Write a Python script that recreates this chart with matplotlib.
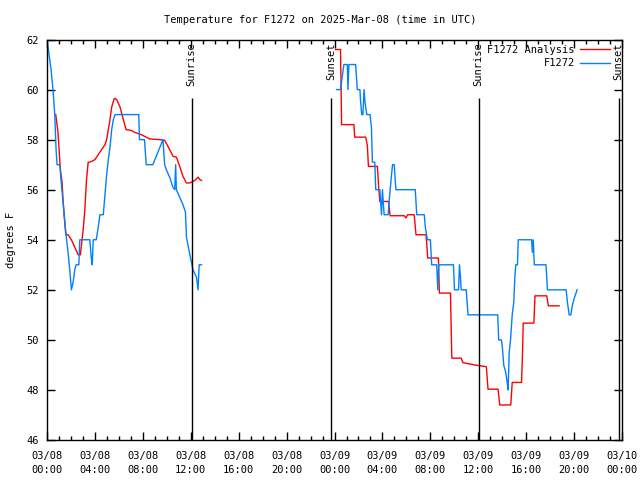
import numpy as np
import matplotlib
matplotlib.use("Agg")
import matplotlib.pyplot as plt

# hours since 03/08 00:00 UTC, temperature in F (nan = gap in data)
obs_hours = [0.0, 0.34, 0.5, 0.65, 0.76, 0.84, 1.07, 1.17, 1.34, 1.49, 1.59, 1.76, 1.90, 2.04,
             2.18, 2.32, 2.43, 2.66, 2.74, 3.58, 3.69, 3.78, 3.86, 4.11, 4.28, 4.42, 4.70, 4.84,
             4.98, 5.12, 5.26, 5.40, 5.54, 5.68, 7.66, 7.72, 8.14, 8.28, 8.84, 9.68, 9.82, 9.96,
             10.24, 10.51, 10.66, 10.74, 10.80, 11.08, 11.35, 11.56, 11.64, 11.97, 12.19, 12.48,
             12.61, 12.70, 12.90,
             np.nan,
             24.17, 24.50, 24.78, 25.07, 25.12, 25.20, 25.76, 25.90, 26.12, 26.18, 26.27, 26.37,
             26.46, 26.54, 26.69, 26.96, 27.08, 27.16, 27.36, 27.44, 27.78, 27.92, 28.00, 28.14,
             28.47, 28.64, 28.84, 28.98, 29.12, 30.74, 30.86, 31.49, 31.58, 31.75, 32.00, 32.11,
             32.53, 32.62, 32.70, 33.93, 34.01, 34.35, 34.43, 34.51, 34.57, 34.99, 35.14, 37.62,
             37.70, 37.93, 38.01, 38.12, 38.29, 38.41, 38.49, 38.58, 38.69, 38.83, 38.96, 39.05,
             39.13, 39.27, 39.33, 40.45, 40.51, 40.59, 40.67, 41.65, 41.77, 43.33, 43.44, 43.58,
             43.72, 43.86, 44.03, 44.25]
obs_temps = [62.0, 60.8, 60.0, 59.0, 57.6, 57.0, 57.0, 56.4, 55.5, 54.7, 54.2, 53.5, 52.8, 52.0,
             52.3, 52.8, 53.0, 53.0, 54.0, 54.0, 53.3, 53.0, 54.0, 54.0, 54.5, 55.0, 55.0, 55.8,
             56.6, 57.2, 57.7, 58.4, 58.8, 59.0, 59.0, 58.0, 58.0, 57.0, 57.0, 58.0, 57.0, 56.8,
             56.5, 56.1, 56.0, 57.0, 56.0, 55.7, 55.4, 55.1, 54.1, 53.3, 52.8, 52.5,
             52.0, 53.0, 53.0,
             np.nan,
             60.0, 60.0, 61.0, 61.0, 60.0, 61.0, 61.0, 60.0, 60.0, 59.5, 59.0, 59.0,
             60.0, 59.5, 59.0, 59.0, 58.5, 57.1, 57.1, 56.0, 56.0, 55.0, 56.0, 55.0,
             55.0, 56.0, 57.0, 57.0, 56.0, 56.0, 55.0, 55.0, 54.5, 54.0, 54.0, 53.0,
             53.0, 52.0, 53.0, 53.0, 52.0, 52.0, 53.0, 52.5, 52.0, 52.0, 51.0, 51.0,
             50.0, 50.0, 49.7, 49.0, 48.7, 48.3, 48.0, 49.5, 50.0, 51.0, 51.5, 52.5,
             53.0, 53.0, 54.0, 54.0, 53.5, 54.0, 53.0, 53.0, 52.0, 52.0, 51.5, 51.0,
             51.0, 51.4, 51.7, 52.0]

ana_hours = [0.73, 0.92, 1.01, 1.12, 1.26, 1.34, 1.43, 1.57, 1.76, 2.04, 2.32, 2.60, 2.79, 2.88,
             3.02, 3.16, 3.30, 3.44, 3.58, 4.00, 4.28, 4.56, 4.84, 4.98, 5.12, 5.26, 5.40, 5.62,
             5.82, 6.10, 6.32, 6.60, 7.02, 7.44, 7.86, 8.28, 8.56, 9.40, 9.82, 10.10, 10.38,
             10.52, 10.80, 11.08, 11.35, 11.64, 11.92, 12.34, 12.61, 12.76, 12.90,
             np.nan,
             24.08, 24.50, 24.59, 25.62, 25.68, 26.60, 26.74, 26.83, 27.58, 27.67, 27.78, 28.51,
             28.64, 29.82, 29.96, 30.10, 30.65, 30.80, 31.64, 31.72, 31.78, 32.67, 32.75, 33.68,
             33.73, 33.79, 34.57, 34.72, 35.69, 36.67, 36.81, 37.65, 37.79, 38.71, 38.83, 39.61,
             39.69, 39.75, 40.64, 40.73, 41.71, 41.79, 41.85, 42.74]
ana_temps = [59.0, 58.3, 57.6, 56.8, 56.3, 55.6, 55.0, 54.2, 54.2, 54.0, 53.7, 53.4, 53.4, 53.8,
             54.4, 55.2, 56.4, 57.1, 57.1, 57.2, 57.4, 57.6, 57.8, 58.0, 58.4, 58.8, 59.3, 59.65,
             59.6, 59.3, 58.9, 58.4, 58.37, 58.27, 58.2, 58.1, 58.03, 58.0, 57.97, 57.73, 57.47,
             57.33, 57.3, 56.93, 56.53, 56.27, 56.27, 56.37, 56.5, 56.4, 56.37,
             np.nan,
             61.6, 61.6, 58.6, 58.6, 58.1, 58.1, 57.76, 56.93, 56.93, 56.2, 55.53, 55.53,
             54.96, 54.96, 54.87, 55.0, 55.0, 54.2, 54.2, 53.67, 53.27, 53.27, 51.87, 51.87,
             50.6, 49.27, 49.27, 49.09, 49.0, 48.93, 48.03, 48.03, 47.4, 47.4, 48.3, 48.3,
             49.47, 50.67, 50.67, 51.76, 51.76, 51.53, 51.36, 51.36]

sun_hours = [12.07, 23.7, 36.03, 47.71]
sun_names = ["Sunrise", "Sunset", "Sunrise", "Sunset"]

tick_hours = list(range(0, 49, 4))
tick_labels = ["03/08\n00:00", "03/08\n04:00", "03/08\n08:00", "03/08\n12:00", "03/08\n16:00",
               "03/08\n20:00", "03/09\n00:00", "03/09\n04:00", "03/09\n08:00", "03/09\n12:00",
               "03/09\n16:00", "03/09\n20:00", "03/10\n00:00"]

plt.rcParams['font.family'] = ['DejaVu Sans Mono']
plt.rcParams['font.size'] = 7.5

fig = plt.figure(figsize=(6.4, 4.8), dpi=100)
ax = fig.add_axes([0.0734, 0.0833, 0.8986, 0.8344])

ax.plot(ana_hours, ana_temps, color='#ff0000', lw=1.0, label='F1272 Analysis')
ax.plot(obs_hours, obs_temps, color='#0080ff', lw=1.0, label='F1272')

# sunrise / sunset markers
for h, name in zip(sun_hours, sun_names):
    ax.vlines(h, 46, 59.68, color='black', lw=1.0)
    ax.text(h, 61.9, name, rotation=90, ha='center', va='top')

ax.set_xlim(0, 48)
ax.set_ylim(46, 62)
ax.set_xticks(tick_hours)
ax.set_xticklabels(tick_labels, linespacing=1.45)
ax.set_xticks(range(0, 49), minor=True)
ax.set_yticks(range(46, 63, 2))
ax.tick_params(which='both', direction='in', top=True, right=True)
ax.tick_params(axis='x', which='major', pad=8)
ax.tick_params(axis='y', which='major', pad=6)
ax.tick_params(which='major', length=6, width=1)
ax.tick_params(which='minor', length=3, width=1)
for s in ax.spines.values():
    s.set_linewidth(1.0)

ax.set_ylabel('degrees F', labelpad=7)
fig.text(0.5, 0.958, 'Temperature for F1272 on 2025-Mar-08 (time in UTC)', ha='center', va='center')

ax.legend(loc='upper right', frameon=False, markerfirst=False, handlelength=2.9,
          handletextpad=0.5, borderaxespad=0, borderpad=0, labelspacing=0.35,
          bbox_to_anchor=(1 - 12 / 575, 1 - 5 / 400))

fig.savefig('out.png', dpi=100)
